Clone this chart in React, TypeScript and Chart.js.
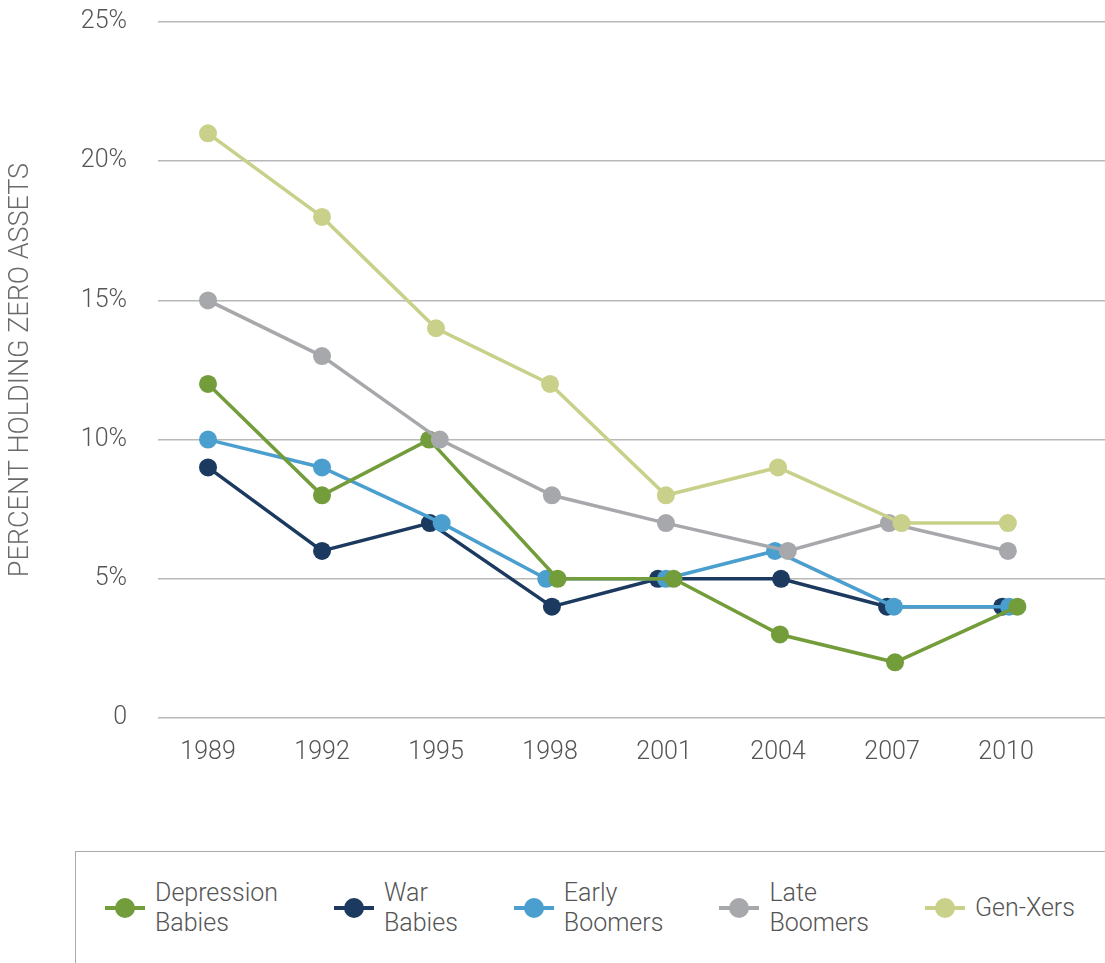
import React, { useEffect, useRef } from "react";
import { Chart, registerables } from "chart.js";

Chart.register(...registerables);

const YEARS = [1989, 1992, 1995, 1998, 2001, 2004, 2007, 2010];
const Y_TICKS = [0, 5, 10, 15, 20, 25];

const SERIES_NAMES = ["Depression Babies", "War Babies", "Early Boomers", "Late Boomers", "Gen-Xers"];
const LEGEND_LINES = [["Depression", "Babies"], ["War", "Babies"], ["Early", "Boomers"], ["Late", "Boomers"], ["Gen-Xers"]];
const SERIES_COLORS = ["#739c3b", "#1c3a5f", "#4b9fcf", "#a7a8ab", "#c9d08a"];

// plotted year positions (slightly jittered in the source to avoid overlap)
const depressionX = [1989, 1992, 1994.82, 1998.2, 2001.25, 2004.05, 2007.08, 2010.3];
const depressionY = [12, 8, 10, 5, 5, 3, 2, 4];
const warX = [1989, 1992, 1994.84, 1998.05, 2000.84, 2004.08, 2006.87, 2009.9];
const warY = [9, 6, 7, 4, 5, 5, 4, 4];
const earlyX = [1989, 1992, 1995.15, 1997.9, 2001.05, 2003.92, 2007.05, 2010.08];
const earlyY = [10, 9, 7, 5, 5, 6, 4, 4];
const lateX = [1989, 1992, 1995.1, 1998.05, 2001.05, 2004.26, 2006.92, 2010.05];
const lateY = [15, 13, 10, 8, 7, 6, 7, 6];
const genxX = [1989, 1992, 1995.0, 1998.0, 2001.05, 2004.0, 2007.25, 2010.05];
const genxY = [21, 18, 14, 12, 8, 9, 7, 7];

const SERIES_X = [depressionX, warX, earlyX, lateX, genxX];
const SERIES_Y = [depressionY, warY, earlyY, lateY, genxY];
// drawing order: lower value = drawn on top
const SERIES_ORDER = [2, 4, 3, 1, 0];

const FONT = "Roboto, 'Helvetica Neue', Arial, sans-serif";

export default function App() {
  const ref = useRef<HTMLCanvasElement | null>(null);

  useEffect(() => {
    document.body.style.margin = "0";
    const canvas = ref.current;
    if (!canvas) return;
    const chart = new Chart(canvas, {
      type: "line",
      data: {
        datasets: SERIES_NAMES.map((name, i) => ({
          label: name,
          data: SERIES_X[i].map((x, j) => ({ x, y: SERIES_Y[i][j] })),
          borderColor: SERIES_COLORS[i],
          backgroundColor: SERIES_COLORS[i],
          pointBackgroundColor: SERIES_COLORS[i],
          pointBorderColor: SERIES_COLORS[i],
          pointRadius: 9,
          pointBorderWidth: 0,
          borderWidth: 3.5,
          tension: 0,
          clip: false as any,
          order: SERIES_ORDER[i],
        })),
      },
      options: {
        responsive: false,
        animation: false,
        layout: { autoPadding: false, padding: { top: 22, left: 0, right: 0, bottom: 0 } },
        plugins: {
          legend: { display: false },
          tooltip: { enabled: false },
        },
        scales: {
          x: {
            type: "linear",
            min: 1987.684,
            max: 2012.605,
            grid: { display: false, drawTicks: true, tickLength: 20, tickColor: "rgba(0,0,0,0)" },
            border: { display: false },
            afterBuildTicks: (axis: any) => {
              axis.ticks = YEARS.map((v) => ({ value: v }));
            },
            afterFit: (axis: any) => {
              axis.height = 132;
              axis.paddingLeft = 0;
              axis.paddingRight = 0;
            },
            ticks: {
              padding: 0,
              color: "#555",
              font: { family: FONT, size: 25, weight: "300" as any },
              autoSkip: false,
              maxRotation: 0,
              callback: (v: any) => String(v),
            },
          },
          y: {
            min: 0,
            max: 25,
            afterBuildTicks: (axis: any) => {
              axis.ticks = Y_TICKS.map((v) => ({ value: v }));
            },
            afterFit: (axis: any) => {
              axis.width = 158;
            },
            grid: {
              color: "#b8b8b8",
              lineWidth: 1.5,
              drawTicks: true,
              tickLength: 31,
              tickColor: "rgba(0,0,0,0)",
            },
            border: { display: false },
            ticks: {
              padding: 0,
              color: "#555",
              font: { family: FONT, size: 25, weight: "300" as any },
              callback: (v: any) => (v === 0 ? "0" : v + "%"),
            },
            title: {
              display: true,
              text: "PERCENT HOLDING ZERO ASSETS",
              color: "#6a6a6a",
              font: { family: FONT, size: 27, weight: "300" as any },
              padding: { top: 5, bottom: 0 },
            },
          },
        },
      },
    });
    return () => chart.destroy();
  }, []);

  return (
    <div style={{ position: "relative", width: 1105, height: 963, overflow: "hidden", background: "#fff" }}>
      <canvas ref={ref} width={1105} height={850} style={{ position: "absolute", left: 0, top: 0 }} />
      <div
        style={{
          position: "absolute",
          left: 75,
          top: 851,
          width: 1100,
          height: 200,
          borderTop: "1.5px solid #aaa",
          borderLeft: "1.5px solid #aaa",
        }}
      >
        <div
          style={{
            position: "absolute",
            left: 29,
            top: 26,
            display: "flex",
            alignItems: "center",
            gap: 56,
            fontFamily: FONT,
            fontWeight: 300,
            fontSize: 25,
            lineHeight: "30px",
            color: "#555",
          }}
        >
          {SERIES_NAMES.map((name, i) => (
            <div key={name} style={{ display: "flex", alignItems: "center", height: 60 }}>
              <div style={{ position: "relative", width: 40, height: 20, marginRight: 10 }}>
                <div
                  style={{
                    position: "absolute",
                    left: 0,
                    top: 8,
                    width: 40,
                    height: 4,
                    background: SERIES_COLORS[i],
                  }}
                />
                <div
                  style={{
                    position: "absolute",
                    left: 10,
                    top: 0,
                    width: 20,
                    height: 20,
                    borderRadius: 10,
                    background: SERIES_COLORS[i],
                  }}
                />
              </div>
              <div>
                {LEGEND_LINES[i].map((ln) => (
                  <div key={ln}>{ln}</div>
                ))}
              </div>
            </div>
          ))}
        </div>
      </div>
    </div>
  );
}
